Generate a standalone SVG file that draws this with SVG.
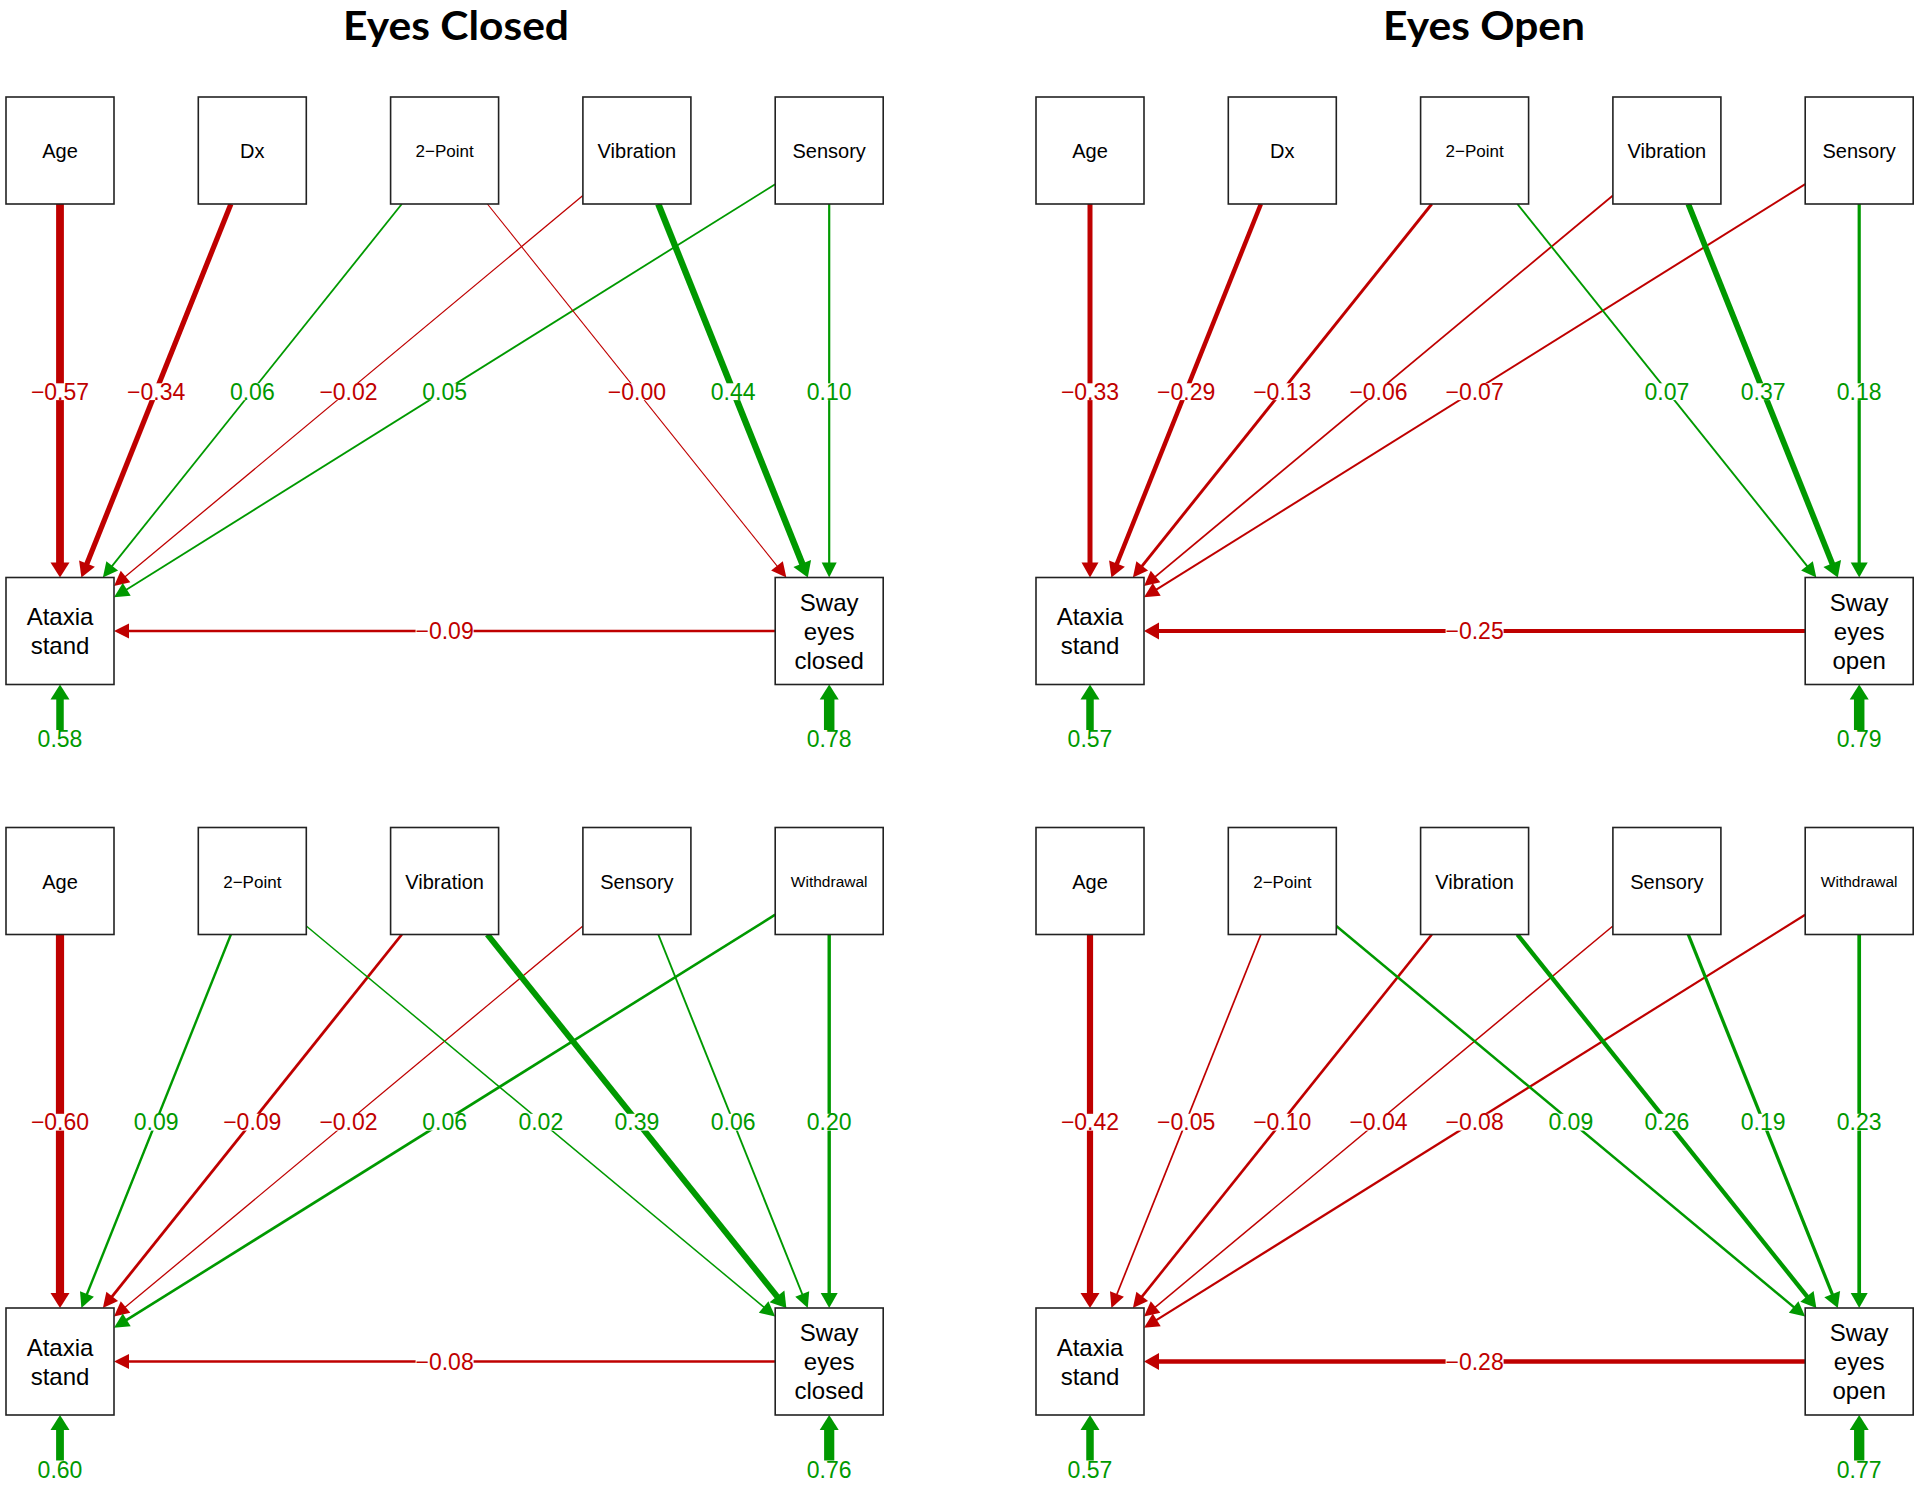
<svg xmlns="http://www.w3.org/2000/svg" width="1920" height="1485" viewBox="0 0 1920 1485">
<style>
.title{font-family:Lato,"Liberation Sans",sans-serif;font-weight:700;font-size:40px;fill:#000;text-anchor:middle}
.box{fill:#fff;stroke:#222;stroke-width:1.6}
.nt{font-family:"Liberation Sans",Arial,sans-serif;font-size:20px;fill:#000;text-anchor:middle}
.ns{font-family:"Liberation Sans",Arial,sans-serif;font-size:17px;fill:#000;text-anchor:middle}
.nw{font-family:"Liberation Sans",Arial,sans-serif;font-size:15.5px;fill:#000;text-anchor:middle}
.nb{font-family:"Liberation Sans",Arial,sans-serif;font-size:24px;fill:#000;text-anchor:middle}
.r{fill:none;stroke:#BF0000}
.g{fill:none;stroke:#009900}
.lr,.lg{font-family:"Liberation Sans",Arial,sans-serif;font-size:23px;text-anchor:middle}
.lr{fill:#BF0000}
.lg{fill:#009900}
.bg{fill:#fff}
</style>
<defs>
<marker id="rs" markerUnits="userSpaceOnUse" markerWidth="15" markerHeight="15" refX="1" refY="7.5" orient="auto" overflow="visible"><path d="M0,0L15,7.5L0,15Z" fill="#BF0000"/></marker>
<marker id="rm" markerUnits="userSpaceOnUse" markerWidth="15" markerHeight="17" refX="1" refY="8.5" orient="auto" overflow="visible"><path d="M0,0L15,8.5L0,17Z" fill="#BF0000"/></marker>
<marker id="rl" markerUnits="userSpaceOnUse" markerWidth="15" markerHeight="19" refX="1" refY="9.5" orient="auto" overflow="visible"><path d="M0,0L15,9.5L0,19Z" fill="#BF0000"/></marker>
<marker id="gs" markerUnits="userSpaceOnUse" markerWidth="15" markerHeight="15" refX="1" refY="7.5" orient="auto" overflow="visible"><path d="M0,0L15,7.5L0,15Z" fill="#009900"/></marker>
<marker id="gm" markerUnits="userSpaceOnUse" markerWidth="15" markerHeight="17" refX="1" refY="8.5" orient="auto" overflow="visible"><path d="M0,0L15,8.5L0,17Z" fill="#009900"/></marker>
<marker id="gl" markerUnits="userSpaceOnUse" markerWidth="15" markerHeight="19" refX="1" refY="9.5" orient="auto" overflow="visible"><path d="M0,0L15,9.5L0,19Z" fill="#009900"/></marker>
</defs>
<rect width="1920" height="1485" fill="#fff"/>
<text class="title" x="456" y="39.5" textLength="226" lengthAdjust="spacingAndGlyphs">Eyes Closed</text>
<text class="title" x="1484" y="39.5" textLength="202" lengthAdjust="spacingAndGlyphs">Eyes Open</text>

<!-- Panel 1: Eyes Closed, top -->
<g id="panel-tl">
<g id="tl-connectors">
<path class="r" stroke-width="7.8" marker-end="url(#rl)" d="M60,204L60,563.5"/>
<path class="r" stroke-width="5.2" marker-end="url(#rm)" d="M230.9,204L86.6,564.5"/>
<path class="g" stroke-width="1.8" marker-end="url(#gs)" d="M401.8,204L111.6,566.6"/>
<path class="r" stroke-width="1.3" marker-end="url(#rs)" d="M582.9,195.5L124.8,577.1"/>
<path class="g" stroke-width="1.8" marker-end="url(#gs)" d="M775.2,184.2L125.9,589.9"/>
<path class="r" stroke-width="1.1" marker-end="url(#rs)" d="M487.4,204L777.6,566.6"/>
<path class="g" stroke-width="6.4" marker-end="url(#gl)" d="M658.3,204L802.6,564.5"/>
<path class="g" stroke-width="2.2" marker-end="url(#gs)" d="M829.2,204L829.2,563.5"/>
<path class="r" stroke-width="2.6" marker-end="url(#rs)" d="M775.2,631L128,631"/>
<path class="g" stroke-width="7.5" marker-end="url(#gl)" d="M60,730L60,698.5"/>
<path class="g" stroke-width="10.5" marker-end="url(#gl)" d="M829.2,730L829.2,698.5"/>
<rect class="bg" x="31" y="383.3" width="58" height="16.8"/><text class="lr" x="60" y="399.5">−0.57</text>
<rect class="bg" x="127.2" y="383.3" width="58" height="16.8"/><text class="lr" x="156.2" y="399.5">−0.34</text>
<rect class="bg" x="229.8" y="383.3" width="45" height="16.8"/><text class="lg" x="252.3" y="399.5">0.06</text>
<rect class="bg" x="319.5" y="383.3" width="58" height="16.8"/><text class="lr" x="348.5" y="399.5">−0.02</text>
<rect class="bg" x="422.1" y="383.3" width="45" height="16.8"/><text class="lg" x="444.6" y="399.5">0.05</text>
<rect class="bg" x="607.9" y="383.3" width="58" height="16.8"/><text class="lr" x="636.9" y="399.5">−0.00</text>
<rect class="bg" x="710.6" y="383.3" width="45" height="16.8"/><text class="lg" x="733.1" y="399.5">0.44</text>
<rect class="bg" x="806.7" y="383.3" width="45" height="16.8"/><text class="lg" x="829.2" y="399.5">0.10</text>
<rect class="bg" x="415.6" y="622.8" width="58" height="16.8"/><text class="lr" x="444.6" y="639.3">−0.09</text>
<text class="lg" x="60" y="747">0.58</text>
<text class="lg" x="829.2" y="747">0.78</text>
</g>
<g id="tl-age"><rect class="box" x="6" y="97" width="108" height="107"/><text class="nt" x="60" y="158">Age</text></g>
<g id="tl-dx"><rect class="box" x="198.3" y="97" width="108" height="107"/><text class="nt" x="252.3" y="158">Dx</text></g>
<g id="tl-2point"><rect class="box" x="390.6" y="97" width="108" height="107"/><text class="ns" x="444.6" y="157">2−Point</text></g>
<g id="tl-vibration"><rect class="box" x="582.9" y="97" width="108" height="107"/><text class="nt" x="636.9" y="158">Vibration</text></g>
<g id="tl-sensory"><rect class="box" x="775.2" y="97" width="108" height="107"/><text class="nt" x="829.2" y="158">Sensory</text></g>
<g id="tl-ataxia"><rect class="box" x="6" y="577.5" width="108" height="107"/><text class="nb" x="60" y="625">Ataxia</text><text class="nb" x="60" y="654">stand</text></g>
<g id="tl-sway"><rect class="box" x="775.2" y="577.5" width="108" height="107"/><text class="nb" x="829.2" y="610.6">Sway</text><text class="nb" x="829.2" y="639.6">eyes</text><text class="nb" x="829.2" y="668.6">closed</text></g>
</g>

<!-- Panel 2: Eyes Open, top -->
<g id="panel-tr" transform="translate(1030,0)">
<g id="tr-connectors">
<path class="r" stroke-width="5" marker-end="url(#rm)" d="M60,204L60,563.5"/>
<path class="r" stroke-width="4.5" marker-end="url(#rm)" d="M230.9,204L86.6,564.5"/>
<path class="r" stroke-width="2.9" marker-end="url(#rs)" d="M401.8,204L111.6,566.6"/>
<path class="r" stroke-width="1.8" marker-end="url(#rs)" d="M582.9,195.5L124.8,577.1"/>
<path class="r" stroke-width="2" marker-end="url(#rs)" d="M775.2,184.2L125.9,589.9"/>
<path class="g" stroke-width="1.9" marker-end="url(#gs)" d="M487.4,204L777.6,566.6"/>
<path class="g" stroke-width="5.8" marker-end="url(#gl)" d="M658.3,204L802.6,564.5"/>
<path class="g" stroke-width="3.2" marker-end="url(#gm)" d="M829.2,204L829.2,563.5"/>
<path class="r" stroke-width="4.2" marker-end="url(#rm)" d="M775.2,631L128,631"/>
<path class="g" stroke-width="7.5" marker-end="url(#gl)" d="M60,730L60,698.5"/>
<path class="g" stroke-width="10.5" marker-end="url(#gl)" d="M829.2,730L829.2,698.5"/>
<rect class="bg" x="31" y="383.3" width="58" height="16.8"/><text class="lr" x="60" y="399.5">−0.33</text>
<rect class="bg" x="127.2" y="383.3" width="58" height="16.8"/><text class="lr" x="156.2" y="399.5">−0.29</text>
<rect class="bg" x="223.3" y="383.3" width="58" height="16.8"/><text class="lr" x="252.3" y="399.5">−0.13</text>
<rect class="bg" x="319.5" y="383.3" width="58" height="16.8"/><text class="lr" x="348.5" y="399.5">−0.06</text>
<rect class="bg" x="415.6" y="383.3" width="58" height="16.8"/><text class="lr" x="444.6" y="399.5">−0.07</text>
<rect class="bg" x="614.4" y="383.3" width="45" height="16.8"/><text class="lg" x="636.9" y="399.5">0.07</text>
<rect class="bg" x="710.6" y="383.3" width="45" height="16.8"/><text class="lg" x="733.1" y="399.5">0.37</text>
<rect class="bg" x="806.7" y="383.3" width="45" height="16.8"/><text class="lg" x="829.2" y="399.5">0.18</text>
<rect class="bg" x="415.6" y="622.8" width="58" height="16.8"/><text class="lr" x="444.6" y="639.3">−0.25</text>
<text class="lg" x="60" y="747">0.57</text>
<text class="lg" x="829.2" y="747">0.79</text>
</g>
<g id="tr-age"><rect class="box" x="6" y="97" width="108" height="107"/><text class="nt" x="60" y="158">Age</text></g>
<g id="tr-dx"><rect class="box" x="198.3" y="97" width="108" height="107"/><text class="nt" x="252.3" y="158">Dx</text></g>
<g id="tr-2point"><rect class="box" x="390.6" y="97" width="108" height="107"/><text class="ns" x="444.6" y="157">2−Point</text></g>
<g id="tr-vibration"><rect class="box" x="582.9" y="97" width="108" height="107"/><text class="nt" x="636.9" y="158">Vibration</text></g>
<g id="tr-sensory"><rect class="box" x="775.2" y="97" width="108" height="107"/><text class="nt" x="829.2" y="158">Sensory</text></g>
<g id="tr-ataxia"><rect class="box" x="6" y="577.5" width="108" height="107"/><text class="nb" x="60" y="625">Ataxia</text><text class="nb" x="60" y="654">stand</text></g>
<g id="tr-sway"><rect class="box" x="775.2" y="577.5" width="108" height="107"/><text class="nb" x="829.2" y="610.6">Sway</text><text class="nb" x="829.2" y="639.6">eyes</text><text class="nb" x="829.2" y="668.6">open</text></g>
</g>

<!-- Panel 3: Eyes Closed, bottom -->
<g id="panel-bl" transform="translate(0,730.5)">
<g id="bl-connectors">
<path class="r" stroke-width="8.2" marker-end="url(#rl)" d="M60,204L60,563.5"/>
<path class="g" stroke-width="2.4" marker-end="url(#gs)" d="M230.9,204L86.6,564.5"/>
<path class="r" stroke-width="2.8" marker-end="url(#rs)" d="M401.8,204L111.6,566.6"/>
<path class="r" stroke-width="1.3" marker-end="url(#rs)" d="M582.9,195.5L124.8,577.1"/>
<path class="g" stroke-width="2.6" marker-end="url(#gs)" d="M775.2,184.2L125.9,589.9"/>
<path class="g" stroke-width="1.5" marker-end="url(#gs)" d="M306.3,195.5L764.4,577.1"/>
<path class="g" stroke-width="6" marker-end="url(#gl)" d="M487.4,204L777.6,566.6"/>
<path class="g" stroke-width="1.9" marker-end="url(#gs)" d="M658.3,204L802.6,564.5"/>
<path class="g" stroke-width="3.4" marker-end="url(#gm)" d="M829.2,204L829.2,563.5"/>
<path class="r" stroke-width="2.4" marker-end="url(#rs)" d="M775.2,631L128,631"/>
<path class="g" stroke-width="7.8" marker-end="url(#gl)" d="M60,730L60,698.5"/>
<path class="g" stroke-width="10.2" marker-end="url(#gl)" d="M829.2,730L829.2,698.5"/>
<rect class="bg" x="31" y="383.3" width="58" height="16.8"/><text class="lr" x="60" y="399.5">−0.60</text>
<rect class="bg" x="133.7" y="383.3" width="45" height="16.8"/><text class="lg" x="156.2" y="399.5">0.09</text>
<rect class="bg" x="223.3" y="383.3" width="58" height="16.8"/><text class="lr" x="252.3" y="399.5">−0.09</text>
<rect class="bg" x="319.5" y="383.3" width="58" height="16.8"/><text class="lr" x="348.5" y="399.5">−0.02</text>
<rect class="bg" x="422.1" y="383.3" width="45" height="16.8"/><text class="lg" x="444.6" y="399.5">0.06</text>
<rect class="bg" x="518.3" y="383.3" width="45" height="16.8"/><text class="lg" x="540.8" y="399.5">0.02</text>
<rect class="bg" x="614.4" y="383.3" width="45" height="16.8"/><text class="lg" x="636.9" y="399.5">0.39</text>
<rect class="bg" x="710.6" y="383.3" width="45" height="16.8"/><text class="lg" x="733.1" y="399.5">0.06</text>
<rect class="bg" x="806.7" y="383.3" width="45" height="16.8"/><text class="lg" x="829.2" y="399.5">0.20</text>
<rect class="bg" x="415.6" y="622.8" width="58" height="16.8"/><text class="lr" x="444.6" y="639.3">−0.08</text>
<text class="lg" x="60" y="747">0.60</text>
<text class="lg" x="829.2" y="747">0.76</text>
</g>
<g id="bl-age"><rect class="box" x="6" y="97" width="108" height="107"/><text class="nt" x="60" y="158">Age</text></g>
<g id="bl-2point"><rect class="box" x="198.3" y="97" width="108" height="107"/><text class="ns" x="252.3" y="157">2−Point</text></g>
<g id="bl-vibration"><rect class="box" x="390.6" y="97" width="108" height="107"/><text class="nt" x="444.6" y="158">Vibration</text></g>
<g id="bl-sensory"><rect class="box" x="582.9" y="97" width="108" height="107"/><text class="nt" x="636.9" y="158">Sensory</text></g>
<g id="bl-withdrawal"><rect class="box" x="775.2" y="97" width="108" height="107"/><text class="nw" x="829.2" y="156.5">Withdrawal</text></g>
<g id="bl-ataxia"><rect class="box" x="6" y="577.5" width="108" height="107"/><text class="nb" x="60" y="625">Ataxia</text><text class="nb" x="60" y="654">stand</text></g>
<g id="bl-sway"><rect class="box" x="775.2" y="577.5" width="108" height="107"/><text class="nb" x="829.2" y="610.6">Sway</text><text class="nb" x="829.2" y="639.6">eyes</text><text class="nb" x="829.2" y="668.6">closed</text></g>
</g>

<!-- Panel 4: Eyes Open, bottom -->
<g id="panel-br" transform="translate(1030,730.5)">
<g id="br-connectors">
<path class="r" stroke-width="6.2" marker-end="url(#rl)" d="M60,204L60,563.5"/>
<path class="r" stroke-width="1.7" marker-end="url(#rs)" d="M230.9,204L86.6,564.5"/>
<path class="r" stroke-width="2.6" marker-end="url(#rs)" d="M401.8,204L111.6,566.6"/>
<path class="r" stroke-width="1.5" marker-end="url(#rs)" d="M582.9,195.5L124.8,577.1"/>
<path class="r" stroke-width="2.2" marker-end="url(#rs)" d="M775.2,184.2L125.9,589.9"/>
<path class="g" stroke-width="2.5" marker-end="url(#gs)" d="M306.3,195.5L764.4,577.1"/>
<path class="g" stroke-width="4.3" marker-end="url(#gm)" d="M487.4,204L777.6,566.6"/>
<path class="g" stroke-width="3.3" marker-end="url(#gm)" d="M658.3,204L802.6,564.5"/>
<path class="g" stroke-width="3.7" marker-end="url(#gm)" d="M829.2,204L829.2,563.5"/>
<path class="r" stroke-width="4.4" marker-end="url(#rm)" d="M775.2,631L128,631"/>
<path class="g" stroke-width="7.5" marker-end="url(#gl)" d="M60,730L60,698.5"/>
<path class="g" stroke-width="10.3" marker-end="url(#gl)" d="M829.2,730L829.2,698.5"/>
<rect class="bg" x="31" y="383.3" width="58" height="16.8"/><text class="lr" x="60" y="399.5">−0.42</text>
<rect class="bg" x="127.2" y="383.3" width="58" height="16.8"/><text class="lr" x="156.2" y="399.5">−0.05</text>
<rect class="bg" x="223.3" y="383.3" width="58" height="16.8"/><text class="lr" x="252.3" y="399.5">−0.10</text>
<rect class="bg" x="319.5" y="383.3" width="58" height="16.8"/><text class="lr" x="348.5" y="399.5">−0.04</text>
<rect class="bg" x="415.6" y="383.3" width="58" height="16.8"/><text class="lr" x="444.6" y="399.5">−0.08</text>
<rect class="bg" x="518.3" y="383.3" width="45" height="16.8"/><text class="lg" x="540.8" y="399.5">0.09</text>
<rect class="bg" x="614.4" y="383.3" width="45" height="16.8"/><text class="lg" x="636.9" y="399.5">0.26</text>
<rect class="bg" x="710.6" y="383.3" width="45" height="16.8"/><text class="lg" x="733.1" y="399.5">0.19</text>
<rect class="bg" x="806.7" y="383.3" width="45" height="16.8"/><text class="lg" x="829.2" y="399.5">0.23</text>
<rect class="bg" x="415.6" y="622.8" width="58" height="16.8"/><text class="lr" x="444.6" y="639.3">−0.28</text>
<text class="lg" x="60" y="747">0.57</text>
<text class="lg" x="829.2" y="747">0.77</text>
</g>
<g id="br-age"><rect class="box" x="6" y="97" width="108" height="107"/><text class="nt" x="60" y="158">Age</text></g>
<g id="br-2point"><rect class="box" x="198.3" y="97" width="108" height="107"/><text class="ns" x="252.3" y="157">2−Point</text></g>
<g id="br-vibration"><rect class="box" x="390.6" y="97" width="108" height="107"/><text class="nt" x="444.6" y="158">Vibration</text></g>
<g id="br-sensory"><rect class="box" x="582.9" y="97" width="108" height="107"/><text class="nt" x="636.9" y="158">Sensory</text></g>
<g id="br-withdrawal"><rect class="box" x="775.2" y="97" width="108" height="107"/><text class="nw" x="829.2" y="156.5">Withdrawal</text></g>
<g id="br-ataxia"><rect class="box" x="6" y="577.5" width="108" height="107"/><text class="nb" x="60" y="625">Ataxia</text><text class="nb" x="60" y="654">stand</text></g>
<g id="br-sway"><rect class="box" x="775.2" y="577.5" width="108" height="107"/><text class="nb" x="829.2" y="610.6">Sway</text><text class="nb" x="829.2" y="639.6">eyes</text><text class="nb" x="829.2" y="668.6">open</text></g>
</g>
</svg>
